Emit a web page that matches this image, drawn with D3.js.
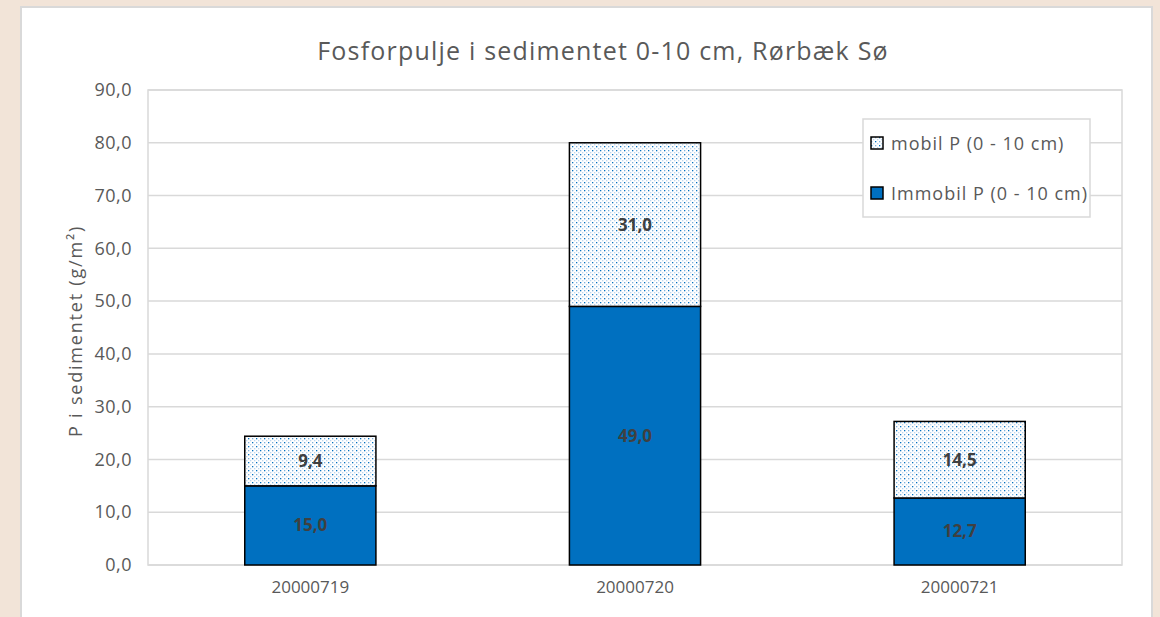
<!DOCTYPE html>
<html>
<head>
<meta charset="utf-8">
<script src="https://cdn.jsdelivr.net/npm/d3@7"></script>
<style>
  body { margin: 0; background: #f2e4d8; }
  svg { display: block; font-family: "Open Sans", Lato, sans-serif; }
</style>
</head>
<body>
<div id="chart"></div>
<script>
var categories = ["20000719", "20000720", "20000721"];
var immobil = [15.0, 49.0, 12.7];
var mobil = [9.4, 31.0, 14.5];
var yTicks = [0, 10, 20, 30, 40, 50, 60, 70, 80, 90];
var seriesNames = ["mobil P (0 - 10 cm)", "Immobil P (0 - 10 cm)"];

var svgWidth = 1160;
var svgHeight = 617;
var margin = { top: 90, right: 38, bottom: 52, left: 148 };
var width = 1122 - margin.left;
var height = 565 - margin.top;

var fmt = function(v) { return d3.format(".1f")(v).replace(".", ","); };

var svg = d3.select("#chart")
  .append("svg")
  .attr("width", svgWidth)
  .attr("height", svgHeight);

// pattern for the mobil fill
var defs = svg.append("defs");
var pat = defs.append("pattern")
  .attr("id", "dots")
  .attr("patternUnits", "userSpaceOnUse")
  .attr("width", 8)
  .attr("height", 8);
pat.append("rect").attr("width", 8).attr("height", 8).attr("fill", "#ffffff");
[[0, 0, "#0070c0"], [4, 4, "#0070c0"], [4, 0, "#7fb1dd"], [0, 4, "#7fb1dd"],
 [2, 2, "#bcd6ee"], [6, 6, "#bcd6ee"], [6, 2, "#bcd6ee"], [2, 6, "#bcd6ee"]]
  .forEach(function(p) {
    pat.append("rect").attr("x", p[0]).attr("y", p[1])
      .attr("width", 1.3).attr("height", 1.3).attr("fill", p[2]);
  });

// chart area
svg.append("rect")
  .attr("x", 21).attr("y", 7)
  .attr("width", 1131).attr("height", 620)
  .attr("fill", "#ffffff")
  .attr("stroke", "#d9d9d9")
  .attr("stroke-width", 2);

svg.append("text")
  .attr("x", 603)
  .attr("y", 60)
  .attr("text-anchor", "middle")
  .attr("font-size", 25)
  .attr("letter-spacing", 1.2)
  .attr("fill", "#595959")
  .text("Fosforpulje i sedimentet 0-10 cm, Rørbæk Sø");

var chartGroup = svg.append("g")
  .attr("transform", `translate(${margin.left}, ${margin.top})`);

var x = d3.scaleBand()
  .domain(categories)
  .range([0, width])
  .paddingInner(0.596)
  .paddingOuter(0.298);

var y = d3.scaleLinear()
  .domain([0, 90])
  .range([height, 0]);

// gridlines
chartGroup.append("g")
  .selectAll("line")
  .data(yTicks)
  .enter()
  .append("line")
  .attr("x1", 0).attr("x2", width)
  .attr("y1", d => y(d)).attr("y2", d => y(d))
  .attr("stroke", "#d9d9d9")
  .attr("stroke-width", 1.5);

chartGroup.append("rect")
  .attr("width", width).attr("height", height)
  .attr("fill", "none")
  .attr("stroke", "#d9d9d9")
  .attr("stroke-width", 1.5);

// y axis
var yAxis = d3.axisLeft(y).tickValues(yTicks).tickSize(0).tickPadding(16).tickFormat(fmt);
var yG = chartGroup.append("g").call(yAxis);
yG.select(".domain").remove();
yG.selectAll("text").attr("font-size", 18).attr("letter-spacing", 0.5)
  .attr("fill", "#595959").attr("font-family", "'Open Sans', sans-serif");

// x axis
var xAxis = d3.axisBottom(x).tickSize(0).tickPadding(16);
var xG = chartGroup.append("g").attr("transform", `translate(0, ${height})`).call(xAxis);
xG.select(".domain").remove();
xG.selectAll("text").attr("font-size", 17).attr("fill", "#595959").attr("font-family", "'Open Sans', sans-serif");

// bars
var rows = categories.map(function(c, i) {
  return { cat: c, immobil: immobil[i], mobil: mobil[i] };
});

chartGroup.selectAll(".immobil")
  .data(rows)
  .enter()
  .append("rect")
  .attr("x", d => x(d.cat))
  .attr("y", d => y(d.immobil))
  .attr("width", x.bandwidth())
  .attr("height", d => y(0) - y(d.immobil))
  .attr("fill", "#0070c0")
  .attr("stroke", "#000")
  .attr("stroke-width", 1.5);

chartGroup.selectAll(".mobil")
  .data(rows)
  .enter()
  .append("rect")
  .attr("x", d => x(d.cat))
  .attr("y", d => y(d.immobil + d.mobil))
  .attr("width", x.bandwidth())
  .attr("height", d => y(d.immobil) - y(d.immobil + d.mobil))
  .attr("fill", "url(#dots)")
  .attr("stroke", "#000")
  .attr("stroke-width", 1.5);

// data labels
chartGroup.selectAll(".lblI")
  .data(rows)
  .enter()
  .append("text")
  .attr("x", d => x(d.cat) + x.bandwidth() / 2)
  .attr("y", d => y(d.immobil / 2) + 6)
  .attr("text-anchor", "middle")
  .attr("font-size", 17)
  .attr("font-weight", "bold")
  .attr("fill", "#404040")
  .text(d => fmt(d.immobil));

chartGroup.selectAll(".lblM")
  .data(rows)
  .enter()
  .append("text")
  .attr("x", d => x(d.cat) + x.bandwidth() / 2)
  .attr("y", d => y(d.immobil + d.mobil / 2) + 6)
  .attr("text-anchor", "middle")
  .attr("font-size", 17)
  .attr("font-weight", "bold")
  .attr("fill", "#404040")
  .text(d => fmt(d.mobil));

// y label
svg.append("text")
  .attr("transform", "translate(82, 331) rotate(-90)")
  .attr("text-anchor", "middle")
  .attr("font-size", 18)
  .attr("letter-spacing", 1.8)
  .attr("fill", "#595959")
  .text("P i sedimentet (g/m²)");

// legend
var legend = svg.append("g").attr("transform", "translate(863, 119)");
legend.append("rect")
  .attr("width", 227).attr("height", 98)
  .attr("fill", "#ffffff")
  .attr("stroke", "#d9d9d9")
  .attr("stroke-width", 1.5);

var fills = ["url(#dots)", "#0070c0"];
seriesNames.forEach(function(name, i) {
  var g = legend.append("g").attr("transform", `translate(8, ${18 + i * 50})`);
  g.append("rect")
    .attr("width", 12).attr("height", 12)
    .attr("fill", fills[i])
    .attr("stroke", "#000")
    .attr("stroke-width", 1.5);
  g.append("text")
    .attr("x", 20)
    .attr("y", 13)
    .attr("font-size", 18)
    .attr("letter-spacing", 1)
    .attr("fill", "#595959")
    .text(name);
});
</script>
</body>
</html>
